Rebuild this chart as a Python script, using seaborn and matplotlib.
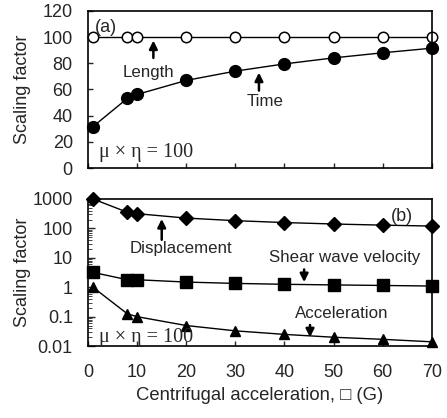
import numpy as np
import pandas as pd
import matplotlib
matplotlib.use("Agg")
import matplotlib.pyplot as plt
import matplotlib.ticker as mticker
import seaborn as sns

# data
accel = [1, 8, 10, 20, 30, 40, 50, 60, 70]
length = [100, 100, 100, 100, 100, 100, 100, 100, 100]
time = [31.6, 53.2, 56.2, 66.9, 74.0, 79.5, 84.1, 88.0, 91.5]
displacement = [1000, 354, 316, 224, 183, 158, 141, 129, 120]
shear_vel = [3.2, 1.8, 1.8, 1.5, 1.35, 1.26, 1.2, 1.15, 1.1]
acceleration = [1.0, 0.125, 0.1, 0.05, 0.033, 0.025, 0.02, 0.017, 0.014]

sns.set_style("ticks")
plt.rcParams['font.family'] = ['Liberation Sans', 'DejaVu Sans']
plt.rcParams['xtick.direction'] = 'in'
plt.rcParams['ytick.direction'] = 'in'

fig = plt.figure(figsize=(4.47, 4.18), dpi=100)
ax1 = fig.add_axes([0.197, 0.598, 0.769, 0.376])
ax2 = fig.add_axes([0.197, 0.172, 0.769, 0.352])

df = pd.DataFrame({'x': accel, 'length': length, 'time': time,
                   'disp': displacement, 'vs': shear_vel, 'acc': acceleration})

SERIF = ['Liberation Serif', 'DejaVu Serif']
ARROW = dict(arrowstyle='-|>', color='black', lw=1.8, mutation_scale=12)
NOTE = 12.2


def line(ax, col, marker, ms, mfc='black', mew=1):
    sns.lineplot(data=df, x='x', y=col, ax=ax, color='black', lw=1, marker=marker,
                 markersize=ms, markerfacecolor=mfc, markeredgecolor='black',
                 markeredgewidth=mew, clip_on=False)

# (a)
line(ax1, 'length', 'o', 7.5, mfc='white', mew=1.1)
line(ax1, 'time', 'o', 8.5)
ax1.set_xlim(0, 70)
ax1.set_ylim(0, 120)
ax1.set_yticks(np.arange(0, 121, 20))
ax1.set_xticks(np.arange(0, 71, 10))
ax1.set_xticklabels([])
ax1.set_xlabel('')
ax1.set_ylabel('Scaling factor', fontsize=13)
ax1.tick_params(labelsize=13, length=3.5, width=1)
ax1.tick_params(axis='y', pad=11)
ax1.text(1.3, 107, '(a)', fontsize=13, va='center')
ax1.annotate('', xy=(13.3, 99.5), xytext=(13.3, 82), arrowprops=ARROW)
ax1.text(12.2, 73, 'Length', fontsize=NOTE, ha='center', va='center')
ax1.annotate('', xy=(34.8, 75), xytext=(34.8, 57), arrowprops=ARROW)
ax1.text(36, 51, 'Time', fontsize=NOTE, ha='center', va='center')
ax1.text(2.2, 12, 'μ × η = 100', fontsize=14.5, family=SERIF, va='center')

# (b)
line(ax2, 'disp', 'D', 7)
line(ax2, 'vs', 's', 8)
line(ax2, 'acc', '^', 7)
ax2.set_yscale('log')
ax2.set_xlim(0, 70)
ax2.set_ylim(0.01, 1000)
ax2.set_xticks(np.arange(0, 71, 10))
ax2.set_yticks([0.01, 0.1, 1, 10, 100, 1000])
ax2.yaxis.set_major_formatter(mticker.FixedFormatter(['0.01', '0.1', '1', '10', '100', '1000']))
ax2.yaxis.set_minor_locator(mticker.LogLocator(base=10, subs=np.arange(2, 10)))
ax2.yaxis.set_minor_formatter(mticker.NullFormatter())
ax2.tick_params(labelsize=13, length=3.5, width=1)
ax2.tick_params(axis='y', which='major', length=5, pad=11)
ax2.tick_params(axis='y', which='minor', length=3)
ax2.tick_params(axis='x', pad=13)
ax2.set_ylabel('Scaling factor', fontsize=13)
ax2.set_xlabel('Centrifugal acceleration, \u25a1 (G)', fontsize=13.3, labelpad=4)
ax2.text(64, 245, '(b)', fontsize=13, ha='center', va='center')
ax2.annotate('', xy=(15, 260), xytext=(15, 33), arrowprops=ARROW)
ax2.text(18.9, 21, 'Displacement', fontsize=NOTE, ha='center', va='center')
ax2.annotate('', xy=(44, 1.2), xytext=(44, 5), arrowprops=ARROW)
ax2.text(52.3, 10, 'Shear wave velocity', fontsize=NOTE, ha='center', va='center')
ax2.annotate('', xy=(45.2, 0.016), xytext=(45.2, 0.065), arrowprops=ARROW)
ax2.text(51.7, 0.13, 'Acceleration', fontsize=NOTE, ha='center', va='center')
ax2.text(2.2, 0.019, 'μ × η = 100', fontsize=14.5, family=SERIF, va='center')

for ax in (ax1, ax2):
    for s in ax.spines.values():
        s.set_visible(True)
        s.set_linewidth(1.2)
        s.set_color('black')
    ax.yaxis.set_label_coords(-0.165, 0.5)

fig.savefig('out.png', dpi=100)
